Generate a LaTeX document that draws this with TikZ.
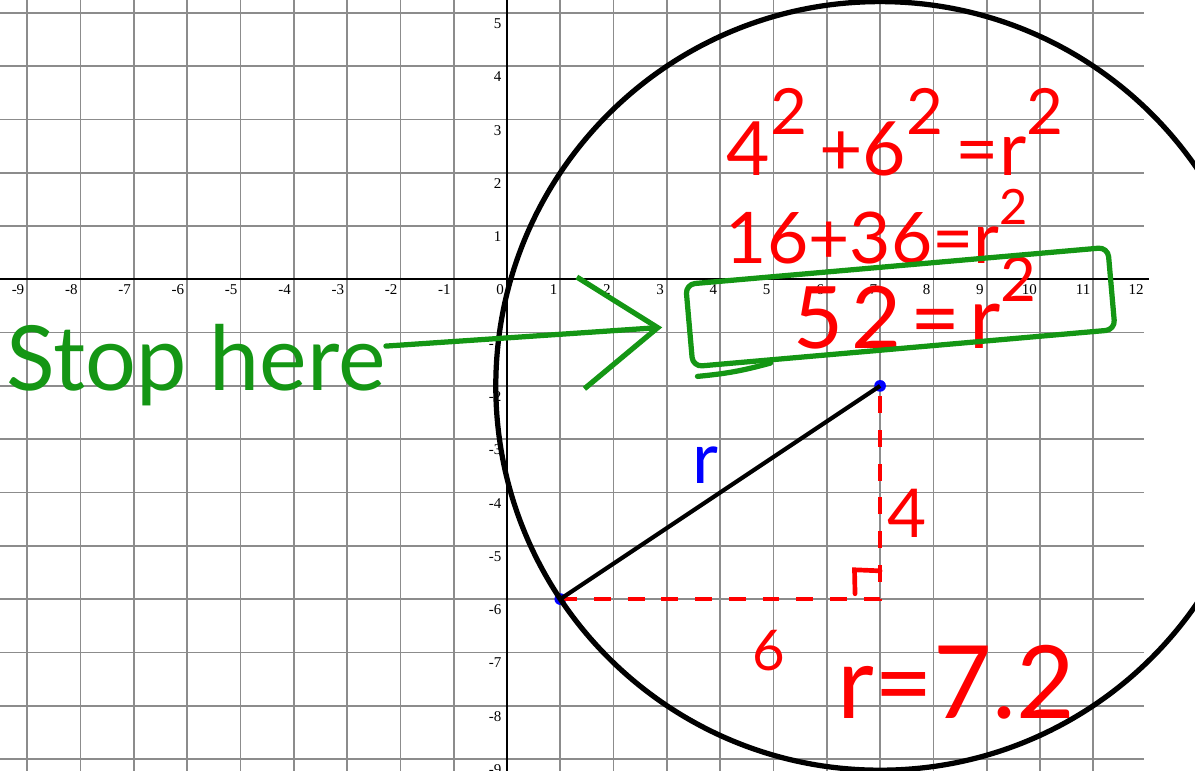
\documentclass[tikz,border=0pt]{standalone}
\usepackage{fontspec}
\usepackage{graphicx}
\usetikzlibrary{arrows.meta, positioning}
\newfontfamily\handfont{Lato}
\newfontfamily\tickfont{Liberation Serif}
\definecolor{inkgreen}{RGB}{20,150,20}
\definecolor{inkred}{RGB}{255,0,0}
\definecolor{inkblue}{RGB}{0,0,255}
% raised squares for the handwritten lines
\newcommand{\hsq}[1][32]{\raisebox{0.55em}{\fontsize{#1}{#1}\selectfont 2}}

\begin{document}
\begin{tikzpicture}[
    gridline/.style={black!45, line width=0.9pt},
    axis/.style={black, line width=1.1pt},
    ticklab/.style={font=\tickfont\fontsize{8}{9}\selectfont, inner sep=0pt},
    hand/.style={inner sep=0pt, text=inkred},
    handline/.style={inkgreen, line width=2.8pt, line cap=round, line join=round},
    reddash/.style={inkred, line width=2.5pt, dash pattern=on 9pt off 9pt},
    bluedot/.style={circle, fill=inkblue, inner sep=0pt, minimum size=0.22cm}
]
% Graph paper
\useasboundingbox (-9.512,-9.225) rectangle (12.908,5.24);
\clip (-9.512,-9.225) rectangle (12.908,5.24);
\draw[gridline] (-9.512,-9.225) grid (11.95,5.24);
\draw[axis] (-9.512,0) -- (12.05,0);
\draw[axis] (0,-9.225) -- (0,5.24);
\foreach \x in {-9,...,12}
    { \node[ticklab, anchor=north east] (xl\x) at (\x-0.05,-0.1) {\x}; }
\foreach \y in {-9,-8,-7,-6,-5,-4,-3,-2,-1,1,2,3,4,5}
    { \node[ticklab, anchor=north east] (yl\y) at (-0.1,\y-0.1) {\y}; }

% Circle, radius and legs
\node[bluedot] (P) at (1,-6) {};
\node[bluedot] (C) at (7,-2) {};
\coordinate (Q) at (7,-6);
\draw[reddash] (P.center) -- (Q) -- (C.center);
\draw[inkred, line width=2.5pt, line cap=round] (6.53,-5.9) -- (6.52,-5.45) -- (7,-5.47);
\draw[black, line width=2.2pt] (P.center) -- (C.center);
\draw[black, line width=2.8pt] (C.center) circle (7.21);

\node[hand, font=\handfont\fontsize{36}{40}\selectfont] (four) at (7.5,-4.4) {4};
\node[hand, font=\handfont\fontsize{30}{34}\selectfont] (six) at (4.92,-6.97) {6};
\node[hand, text=inkblue, font=\handfont\fontsize{38}{42}\selectfont, anchor=base] (rlab) at (3.72,-3.83) {r};
\node[hand, font=\handfont\fontsize{54}{58}\selectfont, anchor=base] (rval) at (8.43,-8.24) {r=7.2};

% Working
\node[hand, font=\handfont\fontsize{40}{44}\selectfont, anchor=base] (eqa) at (7.28,1.95) {4\hsq[34]\,+6\hsq[34]\,=r\hsq[34]};
\node[hand, font=\handfont\fontsize{38}{42}\selectfont, anchor=base] (eqb) at (6.94,0.3) {16+36=r\hsq[26]};
\node[hand, font=\handfont\fontsize{46}{50}\selectfont, anchor=base] (eqc) at (7.65,-1.3) {5\hspace{0.1em}2\hspace{0.1em}=\hspace{0.1em}r\hsq[33]};

% Stop here
\node[handline, draw, rotate=5, minimum width=7.95cm, minimum height=1.55cm, rounded corners=5pt] (box) at (7.38,-0.52) {};
\draw[handline] ([shift={(0.13,-0.13)}]box.south west) to[bend right=5] ([shift={(1.5,0.12)}]box.south west);
\node[text=inkgreen, font=\handfont\fontsize{48}{52}\selectfont, anchor=base west, inner sep=0pt] (stop) at (-9.4,-2.08) {Stop here};
\draw[handline, -{Straight Barb[length=1.45cm, width=2.1cm]}, shorten >=0.46cm] ([yshift=0.35cm]stop.east) -- (box.west);
\end{tikzpicture}
\end{document}
